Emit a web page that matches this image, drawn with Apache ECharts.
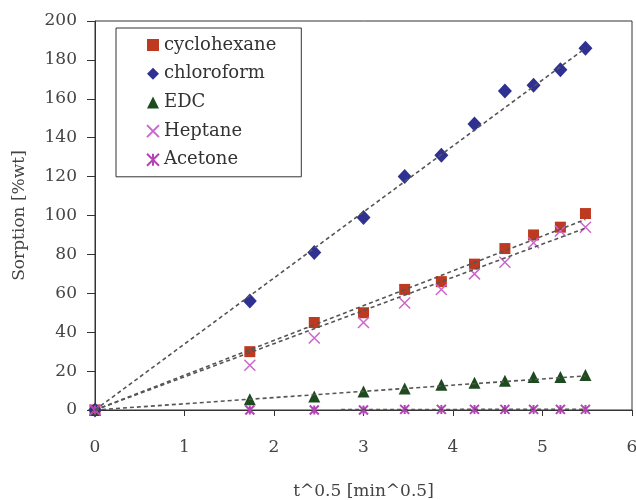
<!DOCTYPE html>
<html>
<head>
<meta charset="utf-8">
<script src="https://cdn.jsdelivr.net/npm/echarts@6/dist/echarts.min.js"></script>
<style>
  html, body { margin: 0; padding: 0; background: #fff; }
  #main { width: 636px; height: 500px; }
</style>
</head>
<body>
<div id="main"></div>
<script>
// t^0.5 values (sqrt of 0, 3, 6 ... 30 min)
const tValues = [0, 1.73, 2.45, 3, 3.46, 3.87, 4.24, 4.58, 4.9, 5.2, 5.48];

const cyclohexane = [0, 30, 45, 50, 62, 66, 75, 83, 90, 94, 101];
const chloroform = [0, 56, 81, 99, 120, 131, 147, 164, 167, 175, 186];
const edc = [0, 5.5, 7, 9.5, 11, 13, 14, 15, 17, 17, 18];
const heptane = [0, 23, 37, 45, 55, 62, 70, 76, 86, 92, 94];
const acetone = [0, 0, 0, 0, 0.3, 0.3, 0.3, 0.3, 0.3, 0.3, 0.3];

// dashed trend lines: [x0, y0, x1, y1]
const trendCyclohexane = [0, 0, 5.48, 98];
const trendChloroform = [0, 0, 5.48, 186];
const trendEdc = [0, 0, 5.48, 17.5];
const trendHeptane = [0, 0, 5.48, 93.5];
const trendAcetone = [2.75, 0.2, 5.48, 0.4];

const serif = 'DejaVu Serif';
const pairs = (ys) => tValues.map((t, i) => [t, ys[i]]);
const seg = (s) => [[s[0], s[1]], [s[2], s[3]]];

const xPath = 'path://M0,0L10,10M10,0L0,10';
const starPath = 'path://M0,0L10,10M10,0L0,10M5,0L5,10';

function trend(s) {
  return {
    type: 'line',
    data: seg(s),
    symbol: 'none',
    silent: true,
    z: 3,
    lineStyle: { color: '#555', width: 1.6, type: [4, 3] },
  };
}

const myChart = echarts.init(document.getElementById('main'));

const option = {
  backgroundColor: '#fff',
  animation: false,
  grid: {
    left: 95,
    right: 4,
    top: 21,
    bottom: 90,
    outerBoundsMode: 'none',
    show: true,
    borderColor: '#333',
    borderWidth: 1,
  },
  legend: {
    orient: 'vertical',
    left: 116,
    top: 28,
    padding: [7, 25, 7, 30],
    backgroundColor: '#fff',
    borderColor: '#333',
    borderWidth: 1,
    itemWidth: 12,
    itemHeight: 12,
    itemGap: 8.7,
    textStyle: { fontFamily: serif, fontSize: 18, color: '#333', lineHeight: 20 },
    data: ['cyclohexane', 'chloroform', 'EDC', 'Heptane', 'Acetone'],
  },
  xAxis: {
    type: 'value',
    min: 0,
    max: 6,
    interval: 1,
    name: 't^0.5 [min^0.5]',
    nameLocation: 'middle',
    nameGap: 73,
    nameTextStyle: { fontFamily: serif, fontSize: 17, color: '#444' },
    axisLine: { onZero: false, lineStyle: { color: '#333', width: 1 } },
    axisTick: { inside: false, length: 6, lineStyle: { color: '#333' } },
    axisLabel: { margin: 29, fontFamily: serif, fontSize: 17, color: '#444' },
    splitLine: { show: false },
  },
  yAxis: {
    type: 'value',
    min: 0,
    max: 200,
    interval: 20,
    name: 'Sorption [%wt]',
    nameLocation: 'middle',
    nameGap: 67,
    nameTextStyle: { fontFamily: serif, fontSize: 17, color: '#444' },
    axisLine: { show: true, lineStyle: { color: '#333', width: 1 } },
    axisTick: { inside: false, length: 8, lineStyle: { color: '#333' } },
    axisLabel: { margin: 18, fontFamily: serif, fontSize: 17, color: '#444' },
    splitLine: { show: false },
  },
  series: [
    trend(trendCyclohexane),
    trend(trendChloroform),
    trend(trendEdc),
    trend(trendHeptane),
    trend(trendAcetone),
    {
      name: 'cyclohexane',
      type: 'scatter',
      data: pairs(cyclohexane),
      symbol: 'rect',
      symbolSize: 11,
      itemStyle: { color: '#bd3a20', opacity: 1 },
    },
    {
      name: 'chloroform',
      type: 'scatter',
      data: pairs(chloroform),
      symbol: 'diamond',
      symbolSize: [14, 15],
      itemStyle: { color: '#2e3192', opacity: 1 },
    },
    {
      name: 'EDC',
      type: 'scatter',
      data: pairs(edc),
      symbol: 'triangle',
      symbolSize: [12, 12],
      itemStyle: { color: '#1d4a1f', opacity: 1 },
    },
    {
      name: 'Heptane',
      type: 'scatter',
      data: pairs(heptane),
      symbol: xPath,
      symbolSize: 11,
      itemStyle: { color: 'transparent', borderColor: '#cc66cc', borderWidth: 1.5, opacity: 1 },
    },
    {
      name: 'Acetone',
      type: 'scatter',
      data: pairs(acetone),
      symbol: starPath,
      symbolSize: 9,
      itemStyle: { color: 'transparent', borderColor: '#b444b4', borderWidth: 2, opacity: 1 },
    },
  ],
};

myChart.setOption(option);
</script>
</body>
</html>
